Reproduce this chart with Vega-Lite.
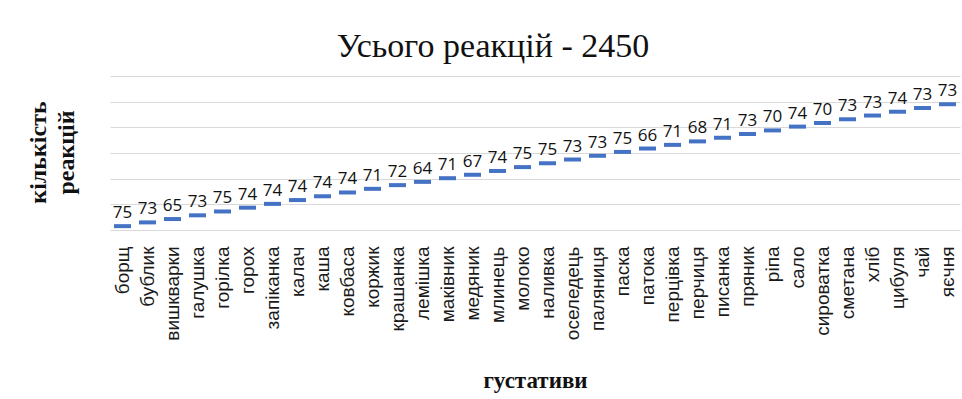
{
  "$schema": "https://vega.github.io/schema/vega-lite/v6.json",
  "width": 850,
  "height": 154,
  "autosize": "none",
  "padding": {"left": 110, "top": 76, "right": 2, "bottom": 169},
  "background": "white",
  "title": {
    "text": "Усього реакцій - 2450",
    "font": "Liberation Serif",
    "fontSize": 34,
    "fontWeight": "normal",
    "color": "#111111",
    "anchor": "middle",
    "baseline": "alphabetic",
    "dx": -42,
    "dy": 33,
    "offset": 18
  },
  "data": {
    "values": [
      {"name": "борщ", "value": 75, "cum": 75},
      {"name": "бублик", "value": 73, "cum": 148},
      {"name": "вишкварки", "value": 65, "cum": 213},
      {"name": "галушка", "value": 73, "cum": 286},
      {"name": "горілка", "value": 75, "cum": 361},
      {"name": "горох", "value": 74, "cum": 435},
      {"name": "запіканка", "value": 74, "cum": 509},
      {"name": "калач", "value": 74, "cum": 583},
      {"name": "каша", "value": 74, "cum": 657},
      {"name": "ковбаса", "value": 74, "cum": 731},
      {"name": "коржик", "value": 71, "cum": 802},
      {"name": "крашанка", "value": 72, "cum": 874},
      {"name": "лемішка", "value": 64, "cum": 938},
      {"name": "маківник", "value": 71, "cum": 1009},
      {"name": "медяник", "value": 67, "cum": 1076},
      {"name": "млинець", "value": 74, "cum": 1150},
      {"name": "молоко", "value": 75, "cum": 1225},
      {"name": "наливка", "value": 75, "cum": 1300},
      {"name": "оселедець", "value": 73, "cum": 1373},
      {"name": "паляниця", "value": 73, "cum": 1446},
      {"name": "паска", "value": 75, "cum": 1521},
      {"name": "патока", "value": 66, "cum": 1587},
      {"name": "перцівка", "value": 71, "cum": 1658},
      {"name": "перчиця", "value": 68, "cum": 1726},
      {"name": "писанка", "value": 71, "cum": 1797},
      {"name": "пряник", "value": 73, "cum": 1870},
      {"name": "ріпа", "value": 70, "cum": 1940},
      {"name": "сало", "value": 74, "cum": 2014},
      {"name": "сироватка", "value": 70, "cum": 2084},
      {"name": "сметана", "value": 73, "cum": 2157},
      {"name": "хліб", "value": 73, "cum": 2230},
      {"name": "цибуля", "value": 74, "cum": 2304},
      {"name": "чай", "value": 73, "cum": 2377},
      {"name": "яєчня", "value": 73, "cum": 2450}
    ]
  },
  "encoding": {
    "x": {
      "field": "name",
      "type": "nominal",
      "sort": null,
      "scale": {"type": "band", "paddingInner": 0, "paddingOuter": 0},
      "axis": {
        "labelAngle": 270,
        "labelAlign": "right",
        "labelBaseline": "middle",
        "labelFont": "Liberation Sans",
        "labelFontSize": 19,
        "labelColor": "#1a1a1a",
        "labelPadding": 16,
        "labelOverlap": false,
        "ticks": false,
        "domain": false,
        "title": "густативи",
        "titleFont": "Liberation Serif",
        "titleFontSize": 23,
        "titleFontWeight": "bold",
        "titleColor": "#111111",
        "titleBaseline": "alphabetic",
        "titleY": 157
      }
    },
    "y": {
      "field": "cum",
      "type": "quantitative",
      "scale": {"domain": [0, 3000], "nice": false},
      "axis": {
        "values": [0, 500, 1000, 1500, 2000, 2500, 3000],
        "labels": false,
        "ticks": false,
        "domain": false,
        "grid": true,
        "gridColor": "#d9d9d9",
        "gridWidth": 1,
        "title": ["кількість", "реакцій"],
        "titleFont": "Liberation Serif",
        "titleFontSize": 24,
        "titleFontWeight": "bold",
        "titleColor": "#111111",
        "titleAngle": 270,
        "titleAlign": "center",
        "titleBaseline": "middle",
        "titleLineHeight": 28,
        "titleX": -72,
        "titleY": 76
      }
    }
  },
  "layer": [
    {
      "mark": {"type": "tick", "color": "#4472C4", "opacity": 1, "thickness": 4, "size": 17, "orient": "horizontal"}
    },
    {
      "mark": {"type": "text", "font": "Open Sans", "fontSize": 17, "baseline": "alphabetic", "dy": -8, "color": "#111111"},
      "encoding": {"text": {"field": "value", "type": "quantitative"}}
    }
  ],
  "config": {"view": {"stroke": null}}
}
